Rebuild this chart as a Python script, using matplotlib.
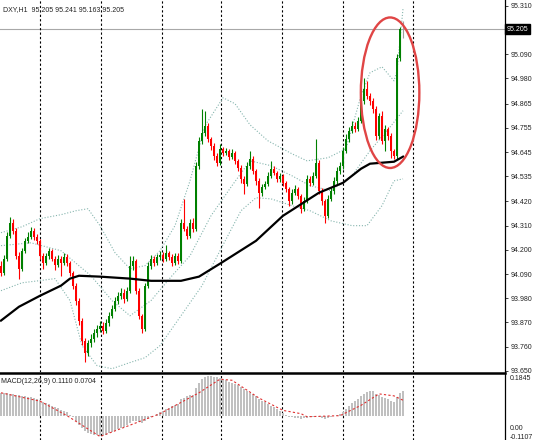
import numpy as np
import matplotlib.pyplot as plt
from matplotlib.patches import Ellipse

plt.rcParams['font.family'] = ['Liberation Sans', 'DejaVu Sans']

# DXY, H1 candles (price)
first_open = 94.128
closes = [
    94.096, 94.160, 94.264, 94.323, 94.287, 94.173, 94.114, 94.196, 94.241, 94.260,
    94.287, 94.260, 94.241, 94.173, 94.141, 94.173, 94.196, 94.160, 94.132, 94.160,
    94.141, 94.169, 94.141, 94.096, 94.037, 93.969, 93.878, 93.787, 93.732, 93.778,
    93.796, 93.823, 93.841, 93.854, 93.832, 93.868, 93.900, 93.932, 93.969, 93.991,
    94.005, 93.978, 94.014, 94.128, 94.151, 94.014, 93.900, 93.841, 94.037, 94.128,
    94.160, 94.141, 94.169, 94.178, 94.160, 94.187, 94.169, 94.141, 94.173, 94.151,
    94.323, 94.296, 94.264, 94.323, 94.296, 94.583, 94.696, 94.733, 94.764, 94.705,
    94.674, 94.628, 94.596, 94.660, 94.642, 94.651, 94.624, 94.642, 94.605, 94.574,
    94.523, 94.501, 94.583, 94.614, 94.560, 94.514, 94.460, 94.487, 94.501, 94.537,
    94.569, 94.551, 94.523, 94.537, 94.505, 94.478, 94.423, 94.460, 94.478, 94.446,
    94.387, 94.423, 94.523, 94.505, 94.537, 94.596, 94.469, 94.423, 94.355, 94.433,
    94.469, 94.514, 94.560, 94.583, 94.651, 94.705, 94.742, 94.764, 94.751, 94.787,
    94.878, 94.933, 94.901, 94.878, 94.842, 94.719, 94.810, 94.696, 94.751, 94.719,
    94.651, 94.628, 95.074, 95.205, 95.205]
highs = [
    94.150, 94.175, 94.280, 94.351, 94.340, 94.300, 94.190, 94.210, 94.255, 94.280,
    94.305, 94.300, 94.270, 94.250, 94.185, 94.185, 94.210, 94.205, 94.170, 94.175,
    94.170, 94.185, 94.180, 94.150, 94.105, 94.050, 93.980, 93.890, 93.800, 93.790,
    93.815, 93.840, 93.860, 93.875, 93.870, 93.885, 93.915, 93.950, 93.985, 94.010,
    94.025, 94.020, 94.030, 94.173, 94.170, 94.160, 94.025, 93.910, 94.050, 94.145,
    94.175, 94.170, 94.180, 94.195, 94.190, 94.223, 94.195, 94.180, 94.185, 94.185,
    94.342, 94.433, 94.310, 94.340, 94.345, 94.600, 94.715, 94.842, 94.833, 94.775,
    94.715, 94.685, 94.640, 94.680, 94.670, 94.665, 94.660, 94.660, 94.650, 94.615,
    94.585, 94.535, 94.600, 94.651, 94.625, 94.570, 94.525, 94.500, 94.515, 94.555,
    94.605, 94.580, 94.560, 94.550, 94.545, 94.515, 94.485, 94.475, 94.495, 94.485,
    94.455, 94.440, 94.540, 94.535, 94.555, 94.705, 94.610, 94.480, 94.430, 94.450,
    94.485, 94.530, 94.575, 94.600, 94.670, 94.725, 94.760, 94.785, 94.780, 94.805,
    94.895, 94.983, 94.969, 94.915, 94.890, 94.855, 94.825, 94.830, 94.770, 94.760,
    94.730, 94.660, 95.090, 95.215, 95.241]
lows = [
    94.080, 94.085, 94.150, 94.255, 94.270, 94.160, 94.069, 94.105, 94.185, 94.230,
    94.250, 94.245, 94.225, 94.160, 94.114, 94.130, 94.160, 94.150, 94.110, 94.120,
    94.082, 94.130, 94.125, 94.080, 94.020, 93.950, 93.860, 93.765, 93.690, 93.715,
    93.760, 93.780, 93.805, 93.825, 93.815, 93.820, 93.855, 93.890, 93.920, 93.955,
    93.975, 93.960, 93.965, 94.005, 94.110, 94.000, 93.885, 93.823, 93.830, 94.025,
    94.115, 94.125, 94.130, 94.155, 94.145, 94.150, 94.155, 94.125, 94.130, 94.135,
    94.140, 94.285, 94.250, 94.255, 94.280, 94.285, 94.570, 94.680, 94.720, 94.690,
    94.655, 94.610, 94.580, 94.585, 94.625, 94.630, 94.610, 94.615, 94.590, 94.560,
    94.505, 94.455, 94.490, 94.570, 94.545, 94.495, 94.392, 94.445, 94.475, 94.490,
    94.525, 94.540, 94.510, 94.510, 94.490, 94.465, 94.401, 94.410, 94.450, 94.430,
    94.369, 94.375, 94.415, 94.490, 94.495, 94.525, 94.455, 94.405, 94.323, 94.345,
    94.420, 94.455, 94.500, 94.545, 94.570, 94.640, 94.690, 94.730, 94.735, 94.740,
    94.775, 94.865, 94.885, 94.860, 94.825, 94.700, 94.705, 94.680, 94.650, 94.700,
    94.619, 94.614, 94.615, 95.060, 95.163]
opens = [first_open] + closes[:-1]

# moving average (black), sampled at bar numbers
ma_bars = [0, 6, 13, 20, 23, 26, 33, 43, 50, 60, 66, 73, 85, 94, 106, 114, 120, 123, 131, 134]
ma_vals = [93.878, 93.941, 93.991, 94.037, 94.069, 94.082, 94.078, 94.069, 94.059, 94.059,
           94.078, 94.137, 94.241, 94.355, 94.460, 94.505, 94.569, 94.592, 94.601, 94.624]

# bollinger bands (dotted)
up_bars = [0, 7, 13, 20, 25, 29, 33, 38, 43, 48, 53, 58, 63, 68, 74, 78, 83, 89, 97, 102,
           109, 115, 120, 123, 127, 131, 132, 134]
up_vals = [94.278, 94.305, 94.342, 94.360, 94.378, 94.387, 94.310, 94.187, 94.114, 94.128,
           94.196, 94.310, 94.514, 94.764, 94.892, 94.865, 94.769, 94.696, 94.637, 94.605,
           94.619, 94.660, 94.901, 95.006, 95.033, 94.969, 95.015, 95.297]
mid_bars = [0, 10, 20, 30, 37, 43, 50, 57, 63, 70, 77, 83, 90, 97, 103, 110, 117, 123, 130, 134]
mid_vals = [94.219, 94.232, 94.196, 94.082, 93.969, 93.900, 93.969, 94.082, 94.173, 94.355,
            94.492, 94.605, 94.583, 94.537, 94.492, 94.469, 94.537, 94.651, 94.764, 94.833]
low_bars = [0, 7, 13, 18, 23, 27, 32, 37, 43, 48, 53, 60, 67, 73, 80, 85, 90, 97, 103, 110,
            117, 122, 127, 131, 134]
low_vals = [94.014, 94.050, 94.060, 94.069, 93.969, 93.764, 93.673, 93.659, 93.687, 93.709,
            93.764, 93.900, 94.037, 94.196, 94.378, 94.437, 94.432, 94.401, 94.378, 94.332,
            94.310, 94.310, 94.401, 94.514, 94.523]

# MACD(12,26,9)
macd_hist = [
    0.104, 0.104, 0.102, 0.100, 0.098, 0.095, 0.092,
    0.090, 0.088, 0.086, 0.084, 0.082, 0.078, 0.072,
    0.064, 0.058, 0.052, 0.045, 0.040, 0.035, 0.028,
    0.022, 0.015, 0.005, -0.008,
    -0.025, -0.042, -0.058, -0.070, -0.078, -0.083, -0.087, -0.090, -0.092,
    -0.090, -0.086, -0.080, -0.074, -0.068, -0.060, -0.055, -0.050, -0.042, -0.032, -0.025,
    -0.025, -0.030, -0.035, -0.025, -0.015, -0.008, 0.000, 0.008,
    0.015, 0.022, 0.030, 0.036, 0.042, 0.048, 0.055, 0.075, 0.082, 0.088, 0.092, 0.096, 0.125, 0.150,
    0.165, 0.175, 0.180, 0.180, 0.178, 0.175, 0.172, 0.168, 0.162,
    0.155, 0.150, 0.145, 0.138, 0.130, 0.120, 0.112, 0.105, 0.098, 0.088, 0.078, 0.068, 0.060,
    0.052, 0.045, 0.038, 0.030, 0.022,
    0.012, 0.005, -0.005, -0.008, -0.010, -0.012, -0.015, -0.012, -0.010, -0.008, -0.006,
    -0.003, -0.008, -0.012, -0.015, -0.012, -0.008, -0.003, 0.002, 0.008, 0.015,
    0.030, 0.045, 0.058, 0.068, 0.078, 0.090, 0.100, 0.108, 0.112, 0.110, 0.100,
    0.095, 0.085, 0.080, 0.075, 0.068, 0.060, 0.085, 0.105, 0.111]
sig_bars = [0, 13, 22, 33, 44, 53, 66, 73, 77, 86, 94, 100, 102, 113, 120, 126, 131, 134]
sig_vals = [0.104, 0.066, 0.000, -0.095, -0.038, 0.009, 0.104, 0.166, 0.161, 0.080,
            0.024, 0.009, -0.005, 0.000, 0.047, 0.099, 0.090, 0.070]

price_ticks = [95.310, 95.090, 94.980, 94.865, 94.755, 94.645, 94.535, 94.420, 94.310,
               94.200, 94.090, 93.980, 93.870, 93.760, 93.650]
last_price = 95.205
day_lines = [13, 33.3, 53.7, 73.3, 93.7, 114, 137.3]

W, H = 541, 440
fig = plt.figure(figsize=(W / 100, H / 100), dpi=100)
ax = fig.add_axes([0, 68 / H, 505 / W, 372 / H])
am = fig.add_axes([0, 0, 505 / W, 67 / H], sharex=ax)

x = np.arange(len(closes))
o = np.array(opens)
c = np.array(closes)
up = c > o
doji = c == o
col = np.where(up, '#008000', '#ff0000')
col = np.where(doji, '#a0a0a0', col)

ax.vlines(x, lows, highs, colors=col, lw=0.8, zorder=3)
body = np.maximum(np.abs(c - o), 0.002)
ax.bar(x, body, bottom=np.minimum(o, c), width=0.7, color=col, lw=0, zorder=4)

dot = (0, (1, 1.6))
band_col = '#86b5ae'
ax.plot(up_bars, up_vals, color=band_col, lw=0.8, ls=dot, zorder=2)
ax.plot(mid_bars, mid_vals, color=band_col, lw=0.8, ls=dot, zorder=2)
ax.plot(low_bars, low_vals, color=band_col, lw=0.8, ls=dot, zorder=2)
ax.plot(ma_bars, ma_vals, color='black', lw=1.6, zorder=5)

ax.axhline(last_price, color='#a8a8a8', lw=0.8, zorder=1)
for d in day_lines:
    ax.axvline(d, color='black', lw=0.8, ls=(0, (2, 2)), zorder=1)
    am.axvline(d, color='black', lw=0.8, ls=(0, (2, 2)), zorder=1)

ax.add_patch(Ellipse((129.7, 94.915), width=19.5, height=0.685, fill=False,
                     ec='#e04545', lw=1.7, zorder=6))

ax.set_xlim(-0.33, 168)
ax.set_ylim(93.644, 95.337)
ax.yaxis.tick_right()
ax.set_yticks(price_ticks)
ax.set_yticklabels([f'{t:.3f}' for t in price_ticks])
ax.tick_params(axis='y', labelsize=5, length=2, width=0.6, pad=2, colors='#222222')
ax.tick_params(axis='x', bottom=False, labelbottom=False)
for s in ['left', 'top', 'bottom']:
    ax.spines[s].set_visible(False)
ax.spines['right'].set_linewidth(0.9)
ax.text(1.003, (last_price - 93.644) / (95.337 - 93.644), f'{last_price:.3f}',
        transform=ax.transAxes, fontsize=5, color='white', va='center', ha='left',
        bbox=dict(boxstyle='square,pad=0.25', fc='black', ec='black'), clip_on=False)
fig.text(3 / W, 1 - 10 / H, 'DXY,H1  95.205 95.241 95.163 95.205', fontsize=5,
         va='center', ha='left', color='#222222')

am.bar(x, macd_hist, width=0.35, color='#c0c0c0', lw=0, zorder=2)
am.plot(sig_bars, sig_vals, color='#e03030', lw=0.8, ls=(0, (2, 2)), zorder=3)
am.set_ylim(-0.1107, 0.194)
am.set_yticks([])
am.tick_params(axis='x', bottom=False, labelbottom=False)
for s in ['left', 'bottom']:
    am.spines[s].set_visible(False)
am.spines['right'].set_linewidth(0.9)
am.spines['top'].set_linewidth(1.8)
for txt, yy in [('0.1845', 1 - 5 / 67), ('0.00', 1 - 55 / 67), ('-0.1107', 3 / 67)]:
    am.text(1.01, yy, txt, transform=am.transAxes, fontsize=5, color='#222222',
            va='center', ha='left', clip_on=False)
am.text(0.002, 1 - 8 / 67, 'MACD(12,26,9) 0.1110 0.0704', transform=am.transAxes,
        fontsize=5, color='#222222', va='center', ha='left')

fig.savefig('out.png', dpi=100)
